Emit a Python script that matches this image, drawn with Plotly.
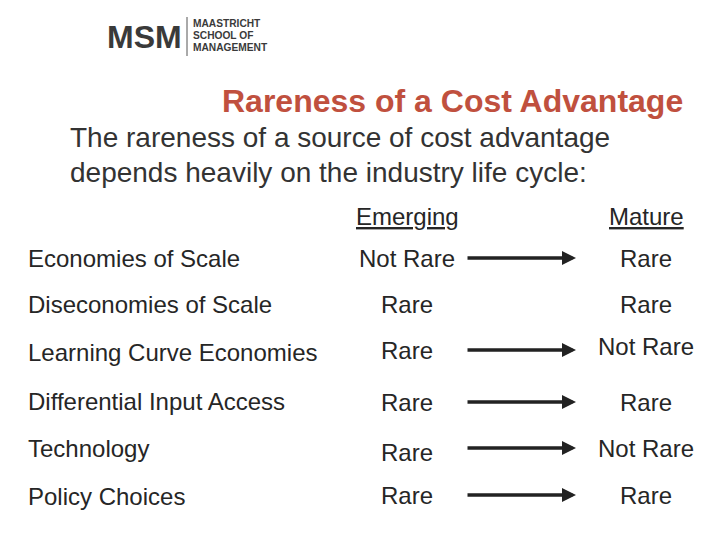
import plotly.graph_objects as go

# ---- data ----
factors = ["Economies of Scale", "Diseconomies of Scale", "Learning Curve Economies",
           "Differential Input Access", "Technology", "Policy Choices"]
emerging = ["Not Rare", "Rare", "Rare", "Rare", "Rare", "Rare"]
mature = ["Rare", "Rare", "Not Rare", "Rare", "Not Rare", "Rare"]
has_arrow = [True, False, True, True, True, True]
col_headers = ["Emerging", "Mature"]
title = "Rareness of a Cost Advantage"
subtitle = ["The rareness of a source of cost advantage",
            "depends heavily on the industry life cycle:"]

# ---- layout positions (viewport pixels, y downwards) ----
label_y = [258, 304, 352, 401, 448, 496]
emerg_y = [258, 304, 350, 402, 452, 495]
mature_y = [258, 304, 346, 402, 448, 495]
arrow_y = [258, 304, 350, 402, 448, 495]
FONT = "Liberation Sans, Arial, sans-serif"
TXT = "#262626"
OFF = 8  # page body margin

fig = go.Figure()
fig.add_trace(go.Scatter(x=[OFF, 720 + OFF], y=[OFF, 540 + OFF], mode="markers",
                         marker=dict(opacity=0), hoverinfo="skip", showlegend=False))

ann = []
def text(x, y, s, size, xanchor="left", color=TXT, bold=False):
    ann.append(dict(x=x, y=y, xref="x", yref="y", text=(f"<b>{s}</b>" if bold else s),
                    showarrow=False, xanchor=xanchor, yanchor="middle",
                    font=dict(family=FONT, size=size, color=color)))

# logo
text(105, 37, "MSM", 32, color="#3a3a3a", bold=True)
for i, w in enumerate(["MAASTRICHT", "SCHOOL OF", "MANAGEMENT"]):
    text(191, 23 + i * 12, w, 10.2, color="#3a3a3a", bold=True)

# title & subtitle
text(685, 101, title, 32, xanchor="right", color="#C0503E", bold=True)
text(68, 137, subtitle[0], 28, color="#333333")
text(68, 172, subtitle[1], 28, color="#333333")

# column headers
text(407, 216, f"<u>{col_headers[0]}</u>", 24, xanchor="center")
text(646, 216, f"<u>{col_headers[1]}</u>", 24, xanchor="center")

for i in range(len(factors)):
    text(26, label_y[i], factors[i], 24)
    text(407, emerg_y[i], emerging[i], 24, xanchor="center")
    text(646, mature_y[i], mature[i], 24, xanchor="center")
    if has_arrow[i]:
        ann.append(dict(x=576, y=arrow_y[i], ax=466, ay=arrow_y[i], xref="x", yref="y",
                        axref="x", ayref="y", text="", showarrow=True, arrowhead=2,
                        arrowsize=0.8, arrowwidth=3.5, arrowcolor="#222222"))

fig.update_layout(
    width=720, height=540, margin=dict(l=0, r=0, t=0, b=0),
    paper_bgcolor="white", plot_bgcolor="white",
    xaxis=dict(range=[OFF, 720 + OFF], visible=False, fixedrange=True),
    yaxis=dict(range=[540 + OFF, OFF], visible=False, fixedrange=True),
    annotations=ann,
    shapes=[dict(type="line", xref="x", yref="y", x0=187, x1=187, y0=17, y1=56,
                 line=dict(color="#555555", width=1))],
)
fig.write_html("out.html")
